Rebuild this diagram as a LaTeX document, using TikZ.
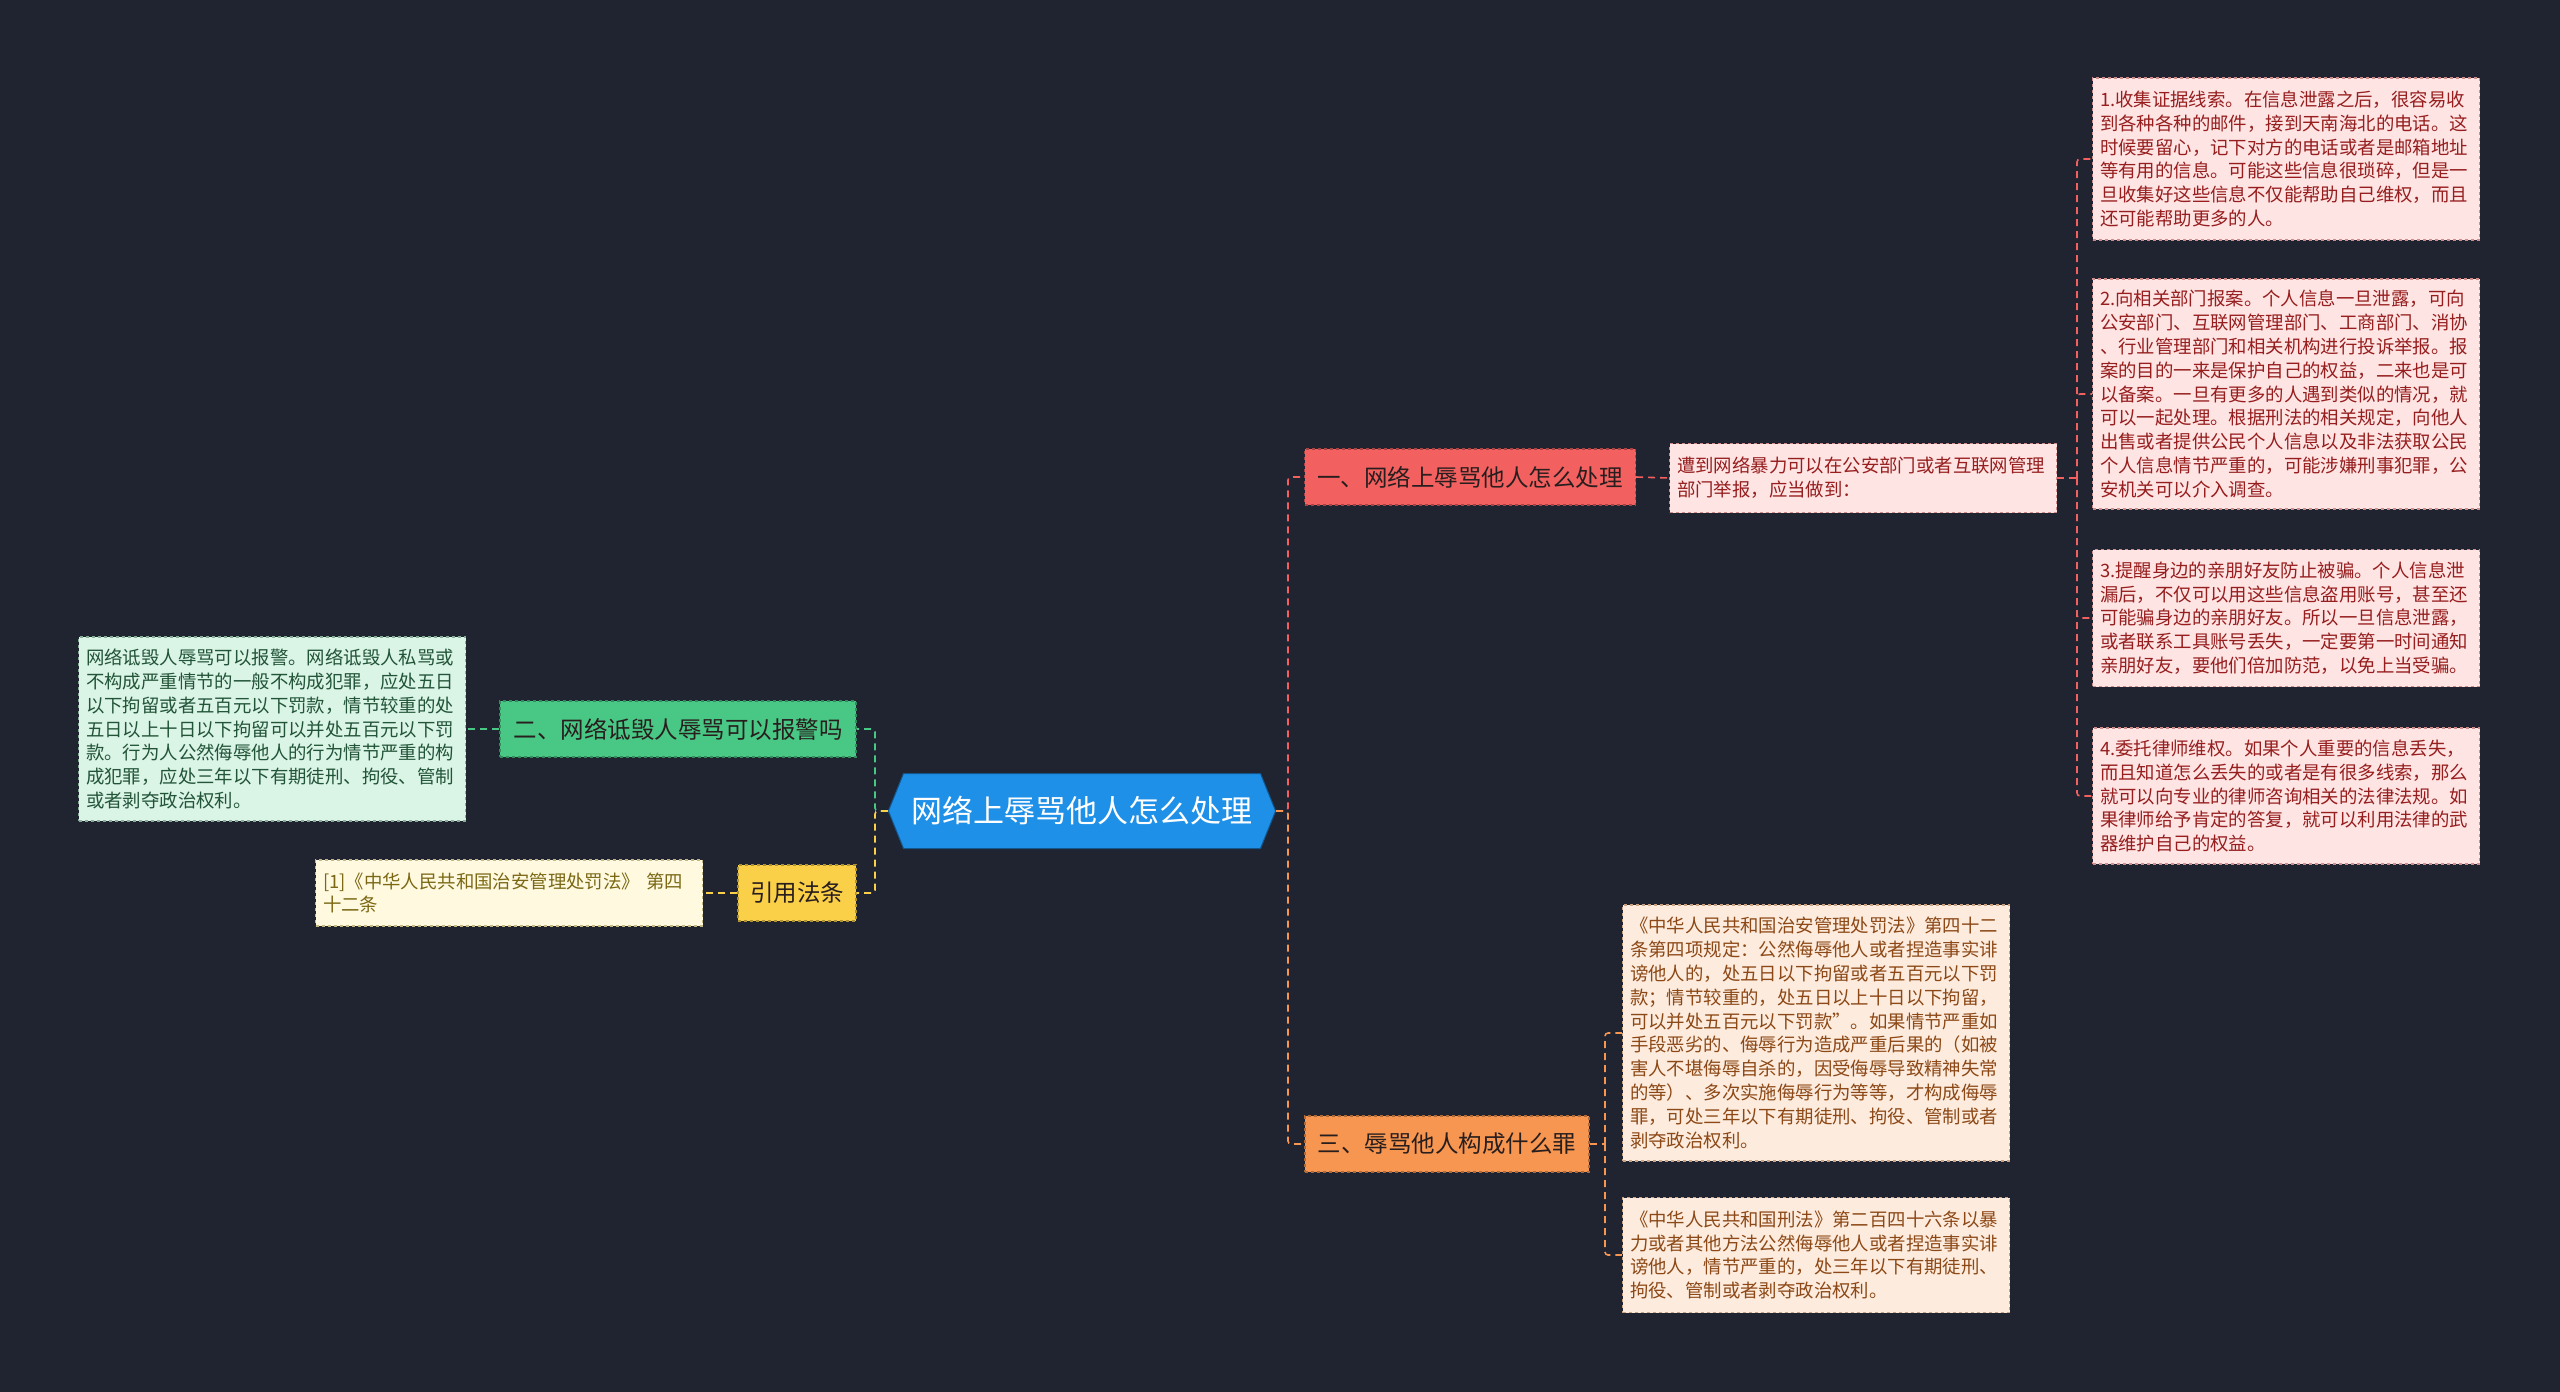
\documentclass[tikz,border=0pt]{standalone}
\usepackage{fontspec}
\setmainfont{Noto Sans CJK SC}
\usetikzlibrary{positioning,shapes.symbols}
\definecolor{bgcolor}{RGB}{32,35,48}
\definecolor{rootcolor}{RGB}{30,144,232}
\definecolor{redcolor}{RGB}{243,96,96}
\definecolor{orgcolor}{RGB}{247,150,80}
\definecolor{grncolor}{RGB}{72,200,132}
\definecolor{ylwcolor}{RGB}{250,208,72}
\definecolor{pinkfill}{RGB}{255,228,228}
\definecolor{pinktext}{RGB}{150,30,30}
\definecolor{creamfill}{RGB}{253,236,222}
\definecolor{creamtext}{RGB}{140,72,22}
\definecolor{mintfill}{RGB}{218,244,230}
\definecolor{minttext}{RGB}{34,84,56}
\definecolor{lightylw}{RGB}{255,249,224}
\definecolor{olivetext}{RGB}{122,104,20}
\definecolor{topictext}{RGB}{40,30,30}
\tikzset{
  rootbox/.style={shape=signal, signal to=west and east, signal pointer angle=136,
    fill=rootcolor, draw=rootcolor!60!black, line width=1pt, text=white,
    font=\fontsize{31}{36}\selectfont, minimum width=362, minimum height=75, inner xsep=8},
  topicbox/.style={fill=#1, draw=#1!70!black, dashed, line width=1.2pt, text=topictext,
    font=\fontsize{23.5}{28}\selectfont, minimum height=56, inner xsep=10},
  leafbox/.style 2 args={fill=#1, draw=#2!45!#1, dashed, line width=1.2pt, text=#2,
    font=\fontsize{18.4}{23.8}\selectfont, text width=372, align=left, inner xsep=7.5, inner ysep=4},
  linkln/.style={draw=#1, dashed, dash pattern=on 7pt off 5pt, line width=1.6pt, rounded corners=3},
}
\begin{document}
\begin{tikzpicture}[x=1pt, y=-1pt]
  \fill[bgcolor] (0,0) rectangle (2560,1392);
  \useasboundingbox (0,0) rectangle (2560,1392);

  % root and topics
  \node[rootbox] (root) at (1082,811) {网络上辱骂他人怎么处理};
  \node[topicbox=redcolor, minimum width=331] (topic1) at (1470,477) {一、网络上辱骂他人怎么处理};
  \node[topicbox=grncolor, minimum width=356] (topic2) at (678,729) {二、网络诋毁人辱骂可以报警吗};
  \node[topicbox=orgcolor, minimum width=284] (topic3) at (1447,1144) {三、辱骂他人构成什么罪};
  \node[topicbox=ylwcolor, minimum width=118] (cite) at (797,893) {引用法条};

  % branch one
  \node[leafbox={pinkfill}{pinktext}, minimum height=69] (intro1) at (1863,478)
    {遭到网络暴力可以在公安部门或者互联网管理\\部门举报，应当做到：};
  \node[leafbox={pinkfill}{pinktext}, minimum height=162] (step1) at (2286,159)
    {1.收集证据线索。在信息泄露之后，很容易收\\到各种各种的邮件，接到天南海北的电话。这\\时候要留心，记下对方的电话或者是邮箱地址\\等有用的信息。可能这些信息很琐碎，但是一\\旦收集好这些信息不仅能帮助自己维权，而且\\还可能帮助更多的人。};
  \node[leafbox={pinkfill}{pinktext}, minimum height=230] (step2) at (2286,394)
    {2.向相关部门报案。个人信息一旦泄露，可向\\公安部门、互联网管理部门、工商部门、消协\\、行业管理部门和相关机构进行投诉举报。报\\案的目的一来是保护自己的权益，二来也是可\\以备案。一旦有更多的人遇到类似的情况，就\\可以一起处理。根据刑法的相关规定，向他人\\出售或者提供公民个人信息以及非法获取公民\\个人信息情节严重的，可能涉嫌刑事犯罪，公\\安机关可以介入调查。};
  \node[leafbox={pinkfill}{pinktext}, minimum height=137] (step3) at (2286,618)
    {3.提醒身边的亲朋好友防止被骗。个人信息泄\\漏后，不仅可以用这些信息盗用账号，甚至还\\可能骗身边的亲朋好友。所以一旦信息泄露，\\或者联系工具账号丢失，一定要第一时间通知\\亲朋好友，要他们倍加防范，以免上当受骗。};
  \node[leafbox={pinkfill}{pinktext}, minimum height=136] (step4) at (2286,796)
    {4.委托律师维权。如果个人重要的信息丢失，\\而且知道怎么丢失的或者是有很多线索，那么\\就可以向专业的律师咨询相关的法律法规。如\\果律师给予肯定的答复，就可以利用法律的武\\器维护自己的权益。};

  % branch three
  \node[leafbox={creamfill}{creamtext}, minimum height=256] (law1) at (1816,1033)
    {《中华人民共和国治安管理处罚法》第四十二\\条第四项规定：公然侮辱他人或者捏造事实诽\\谤他人的，处五日以下拘留或者五百元以下罚\\款；情节较重的，处五日以上十日以下拘留，\\可以并处五百元以下罚款”。如果情节严重如\\手段恶劣的、侮辱行为造成严重后果的（如被\\害人不堪侮辱自杀的，因受侮辱导致精神失常\\的等）、多次实施侮辱行为等等，才构成侮辱\\罪，可处三年以下有期徒刑、拘役、管制或者\\剥夺政治权利。};
  \node[leafbox={creamfill}{creamtext}, minimum height=115] (law2) at (1816,1255)
    {《中华人民共和国刑法》第二百四十六条以暴\\力或者其他方法公然侮辱他人或者捏造事实诽\\谤他人，情节严重的，处三年以下有期徒刑、\\拘役、管制或者剥夺政治权利。};

  % left side
  \node[leafbox={mintfill}{minttext}, minimum height=184] (police) at (272,729)
    {网络诋毁人辱骂可以报警。网络诋毁人私骂或\\不构成严重情节的一般不构成犯罪，应处五日\\以下拘留或者五百元以下罚款，情节较重的处\\五日以上十日以下拘留可以并处五百元以下罚\\款。行为人公然侮辱他人的行为情节严重的构\\成犯罪，应处三年以下有期徒刑、拘役、管制\\或者剥夺政治权利。};
  \node[leafbox={lightylw}{olivetext}, minimum height=66] (ref) at (509,893)
    {[1]《中华人民共和国治安管理处罚法》 第四\\十二条};

  % connectors
  \coordinate (rjoin) at (1288,811);
  \coordinate (ljoin) at (875,811);
  \coordinate (j1) at (2077,478);
  \coordinate (j3) at (1605,1144);
  \draw[linkln=redcolor] (root.east) -- (rjoin) |- (topic1.west);
  \draw[linkln=orgcolor] (root.east) -- (rjoin) |- (topic3.west);
  \draw[linkln=grncolor] (root.west) -- (ljoin) |- (topic2.east);
  \draw[linkln=ylwcolor] (root.west) -- (ljoin) |- (cite.east);
  \draw[linkln=redcolor] (topic1.east) -- (intro1.west);
  \draw[linkln=redcolor] (intro1.east) -- (j1);
  \foreach \n in {step1,step2,step3,step4}
    \draw[linkln=redcolor] (j1) |- (\n.west);
  \draw[linkln=orgcolor] (topic3.east) -- (j3);
  \foreach \n in {law1,law2}
    \draw[linkln=orgcolor] (j3) |- (\n.west);
  \draw[linkln=grncolor] (topic2.west) -- (police.east);
  \draw[linkln=ylwcolor] (cite.west) -- (ref.east);
\end{tikzpicture}
\end{document}
